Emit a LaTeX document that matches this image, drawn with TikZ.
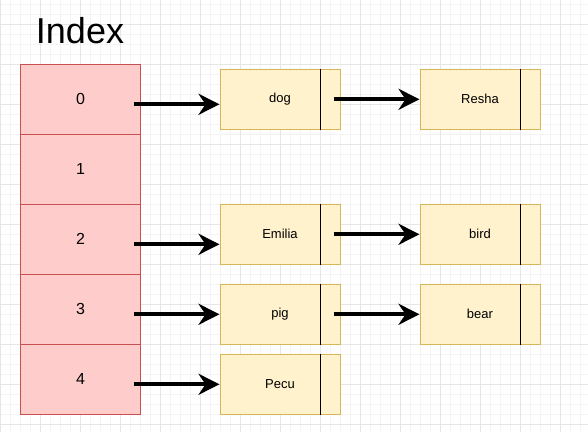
\documentclass[tikz,border=0pt]{standalone}
\usepackage{fontspec}
\setmainfont{Liberation Sans}
\usetikzlibrary{arrows.meta,calc}
\definecolor{idxfill}{HTML}{FFCCCC}
\definecolor{idxdraw}{HTML}{C85050}
\definecolor{lfill}{HTML}{FFF2CC}
\definecolor{ldraw}{HTML}{D6B656}
\definecolor{gminor}{HTML}{F4F4F4}
\definecolor{gmajor}{HTML}{E6E6E6}
\begin{document}
\begin{tikzpicture}[x=1pt,y=-1pt,
  minorgrid/.style={draw=gminor, line width=1pt},
  majorgrid/.style={draw=gmajor, line width=1pt},
  cell/.style={draw=idxdraw, fill=idxfill, line width=1pt, minimum width=120pt,
    minimum height=70pt, inner sep=0pt, font=\fontsize{16}{18}\selectfont},
  item/.style={draw=ldraw, fill=lfill, line width=1pt, minimum width=120pt,
    minimum height=60pt, inner sep=0pt, font=\fontsize{13}{15}\selectfont},
  divider/.style={draw=black, line width=1pt},
  ptr/.style={line width=4pt, -{Stealth[length=21pt,width=21pt,inset=7pt]}},
  title/.style={font=\fontsize{36}{40}\selectfont, inner sep=0pt, anchor=base}]
\useasboundingbox (0,0) rectangle (588,432);
\fill[white] (0,0) rectangle (588,432);
% background grid
\foreach \x in {0,10,...,580} \draw[minorgrid] (\x,0) -- (\x,432);
\foreach \k in {0,...,42} \draw[minorgrid] (0,4.3+10*\k) -- (588,4.3+10*\k);
\foreach \x in {0,40,...,560} \draw[majorgrid] (\x,0) -- (\x,432);
\foreach \k in {0,...,10} \draw[majorgrid] (0,24.3+40*\k) -- (588,24.3+40*\k);

% title
\node[title] (title) at (80,43) {Index};

% index cells
\node[cell] (i0) at (80.5,99.3) {0};
\node[cell] (i1) at (80.5,169.3) {1};
\node[cell] (i2) at (80.5,239.3) {2};
\node[cell] (i3) at (80.5,309.3) {3};
\node[cell] (i4) at (80.5,379.3) {4};

% list items
\node[item] (dog) at (280,99.3) {dog};
\node[item] (resha) at (480,99.3) {Resha};
\node[item] (emilia) at (280,234.3) {Emilia};
\node[item] (bird) at (480,234.3) {bird};
\node[item] (pig) at (280,314.3) {pig};
\node[item] (bear) at (480,314.3) {bear};
\node[item] (pecu) at (280,384.3) {Pecu};

\foreach \n in {dog,resha,emilia,bird,pig,bear,pecu}
  \draw[divider] ([xshift=-20pt]\n.north east) -- ([xshift=-20pt]\n.south east);

% pointers from index
\draw[ptr] ([shift={(-7pt,-5pt)}]i0.east) -- ([yshift=-5pt]dog.west);
\draw[ptr] ([shift={(-7pt,-5pt)}]i2.east) -- ([yshift=-10pt]emilia.west);
\draw[ptr] ([shift={(-7pt,-5pt)}]i3.east) -- (pig.west);
\draw[ptr] ([shift={(-7pt,-5pt)}]i4.east) -- (pecu.west);

% pointers between items
\draw[ptr] ([xshift=-6.7pt]dog.east) -- (resha.west);
\draw[ptr] ([xshift=-6.7pt]emilia.east) -- (bird.west);
\draw[ptr] ([xshift=-6.7pt]pig.east) -- (bear.west);
\end{tikzpicture}
\end{document}
